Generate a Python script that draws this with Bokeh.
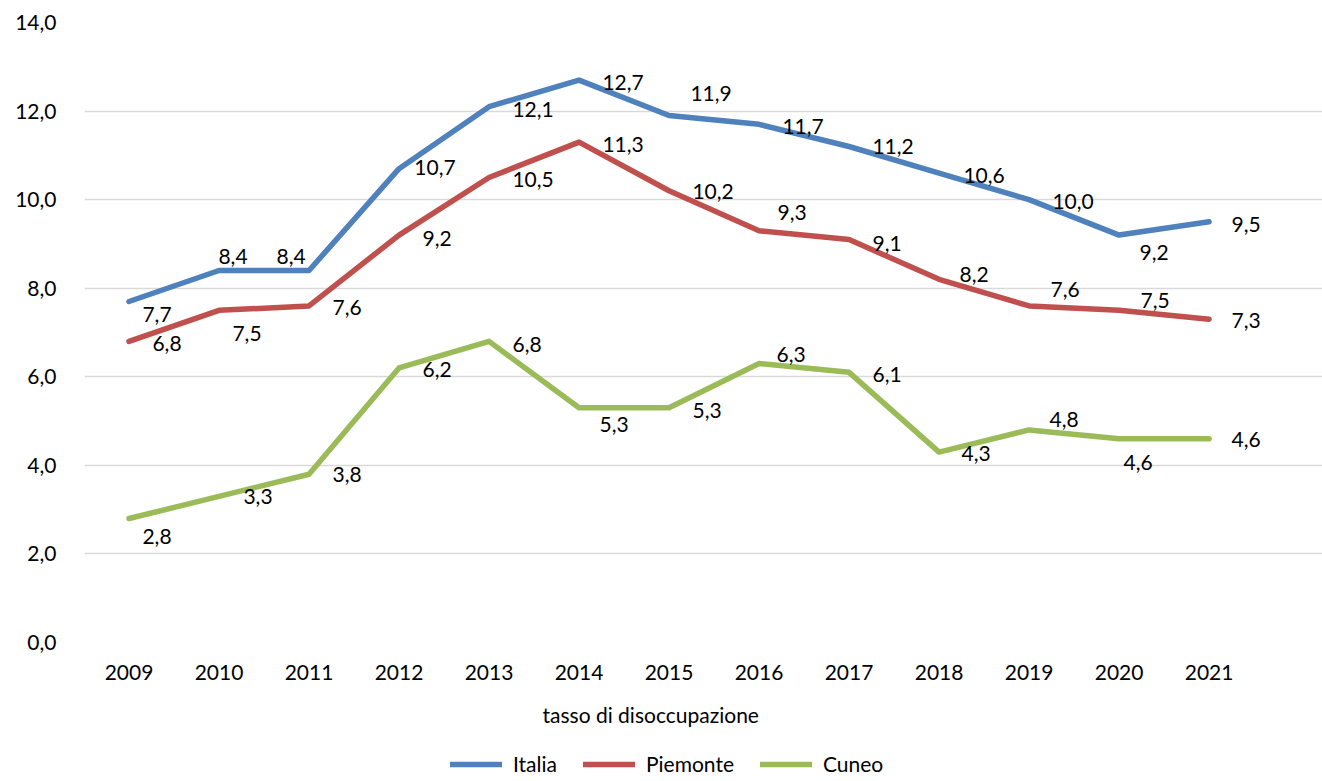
from bokeh.plotting import figure
from bokeh.layouts import column
from bokeh.models import (ColumnDataSource, Range1d, FixedTicker, CustomJSTickFormatter,
                          Legend, LegendItem, Title)
from bokeh.core.properties import value
from bokeh.embed import file_html
from bokeh.resources import INLINE

# ---- data ----
years = ["2009", "2010", "2011", "2012", "2013", "2014", "2015",
         "2016", "2017", "2018", "2019", "2020", "2021"]
italia = [7.7, 8.4, 8.4, 10.7, 12.1, 12.7, 11.9, 11.7, 11.2, 10.6, 10.0, 9.2, 9.5]
piemonte = [6.8, 7.5, 7.6, 9.2, 10.5, 11.3, 10.2, 9.3, 9.1, 8.2, 7.6, 7.5, 7.3]
cuneo = [2.8, 3.3, 3.8, 6.2, 6.8, 5.3, 5.3, 6.3, 6.1, 4.3, 4.8, 4.6, 4.6]
series_names = ["Italia", "Piemonte", "Cuneo"]
y_ticks = [0, 2, 4, 6, 8, 10, 12, 14]
x_title = "tasso di disoccupazione"

# ---- styling ----
colors = ["#4F81BD", "#C0504D", "#9BBB59"]
FONT = "Lato"
FS = "21px"
# data-label placement offsets in screen pixels (dx right, dy down)
italia_dx = [28, 14, -18, 36, 44, 44, 42, 44, 44, 45, 44, 35, 37]
italia_dy = [13, -14, -14, -1, 3, 2, -22, 2, 0, 2, 2, 17, 3]
piemonte_dx = [38, 28, 38, 38, 44, 44, 44, 33, 38, 35, 36, 36, 37]
piemonte_dy = [2, 23, 2, 3, 2, 2, 1, -18, 4, -5, -16, -10, 1]
cuneo_dx = [28, 39, 38, 38, 38, 35, 38, 32, 38, 37, 35, 19, 37]
cuneo_dy = [18, 0, 0, 2, 3, 17, 3, -9, 2, 1, -10, 24, 1]

xs = list(range(len(years)))
p = figure(frame_width=1238, frame_height=620, output_backend="svg", toolbar_location=None,
           x_range=Range1d(-0.4944, 13.26), y_range=Range1d(0, 14),
           min_border_left=84, min_border_right=0, min_border_top=22,
           min_border_bottom=0)
p.outline_line_color = None
p.background_fill_color = "white"
p.border_fill_color = "white"
p.xgrid.visible = False
p.ygrid.grid_line_color = "#d9d9d9"
p.ygrid.grid_line_width = 1.5

p.yaxis.ticker = FixedTicker(ticks=y_ticks)
p.yaxis.formatter = CustomJSTickFormatter(code="return tick.toFixed(1).replace('.', ',');")
p.xaxis.ticker = FixedTicker(ticks=xs)
p.xaxis.formatter = CustomJSTickFormatter(args=dict(years=years),
                                          code="const i = Math.round(tick); return (i >= 0 && i < years.length) ? years[i] : '';")
for ax in (p.xaxis[0], p.yaxis[0]):
    ax.axis_line_color = None
    ax.major_tick_line_color = None
    ax.minor_tick_line_color = None
    ax.major_tick_out = 0
    ax.major_tick_in = 0
    ax.minor_tick_out = 0
    ax.major_label_text_font = FONT
    ax.major_label_text_font_size = FS
    ax.major_label_text_color = "black"
p.yaxis.major_label_standoff = 28
p.xaxis.major_label_standoff = 22

sources = []
renderers = []
all_vals = [italia, piemonte, cuneo]
all_dx = [italia_dx, piemonte_dx, cuneo_dx]
all_dy = [italia_dy, piemonte_dy, cuneo_dy]
for vals, col in zip(all_vals, colors):
    src = ColumnDataSource(dict(x=xs, y=vals))
    sources.append(src)
    r = p.line("x", "y", source=src, line_color=col, line_width=5.5,
               line_cap="round", line_join="round")
    renderers.append(r)

for vals, dx, dy in zip(all_vals, all_dx, all_dy):
    labels = [f"{v:.1f}".replace(".", ",") for v in vals]
    src = ColumnDataSource(dict(x=xs, y=vals, t=labels, dx=dx, dy=dy))
    p.text("x", "y", text="t", source=src, x_offset="dx", y_offset="dy",
           text_align="center", text_baseline="middle",
           text_font=value(FONT), text_font_size=FS, text_color="black")

title = Title(text=x_title, align="left", offset=458, text_font=FONT,
              text_font_size=FS, text_font_style="normal", text_color="black",
              standoff=34)
p.add_layout(title, "below")

# ---- legend strip below the chart ----
lg = figure(width=1322, height=33, output_backend="svg", toolbar_location=None,
            x_range=Range1d(0, 1), y_range=Range1d(0, 1),
            x_axis_location=None, y_axis_location=None,
            min_border_left=0, min_border_right=0, min_border_top=0, min_border_bottom=0)
lg.outline_line_color = None
lg.xgrid.visible = False
lg.ygrid.visible = False
lg.border_fill_color = "white"
leg_renderers = []
for src, col in zip(sources, colors):
    rr = lg.line("x", "y", source=src, line_color=col, line_width=5.5,
                 line_cap="round", line_join="round", visible=False)
    leg_renderers.append(rr)
legend = Legend(items=[LegendItem(label=n, renderers=[r]) for n, r in zip(series_names, leg_renderers)],
                orientation="horizontal", location=(366, 0),
                glyph_width=52, glyph_height=20, label_standoff=11, spacing=26,
                padding=0, margin=0, border_line_color=None, background_fill_alpha=0,
                inactive_fill_alpha=0,
                label_text_font=FONT, label_text_font_size=FS, label_text_color="black")
lg.add_layout(legend, "center")

layout = column(p, lg, spacing=0)
open("out.html", "w").write(file_html(layout, INLINE))
